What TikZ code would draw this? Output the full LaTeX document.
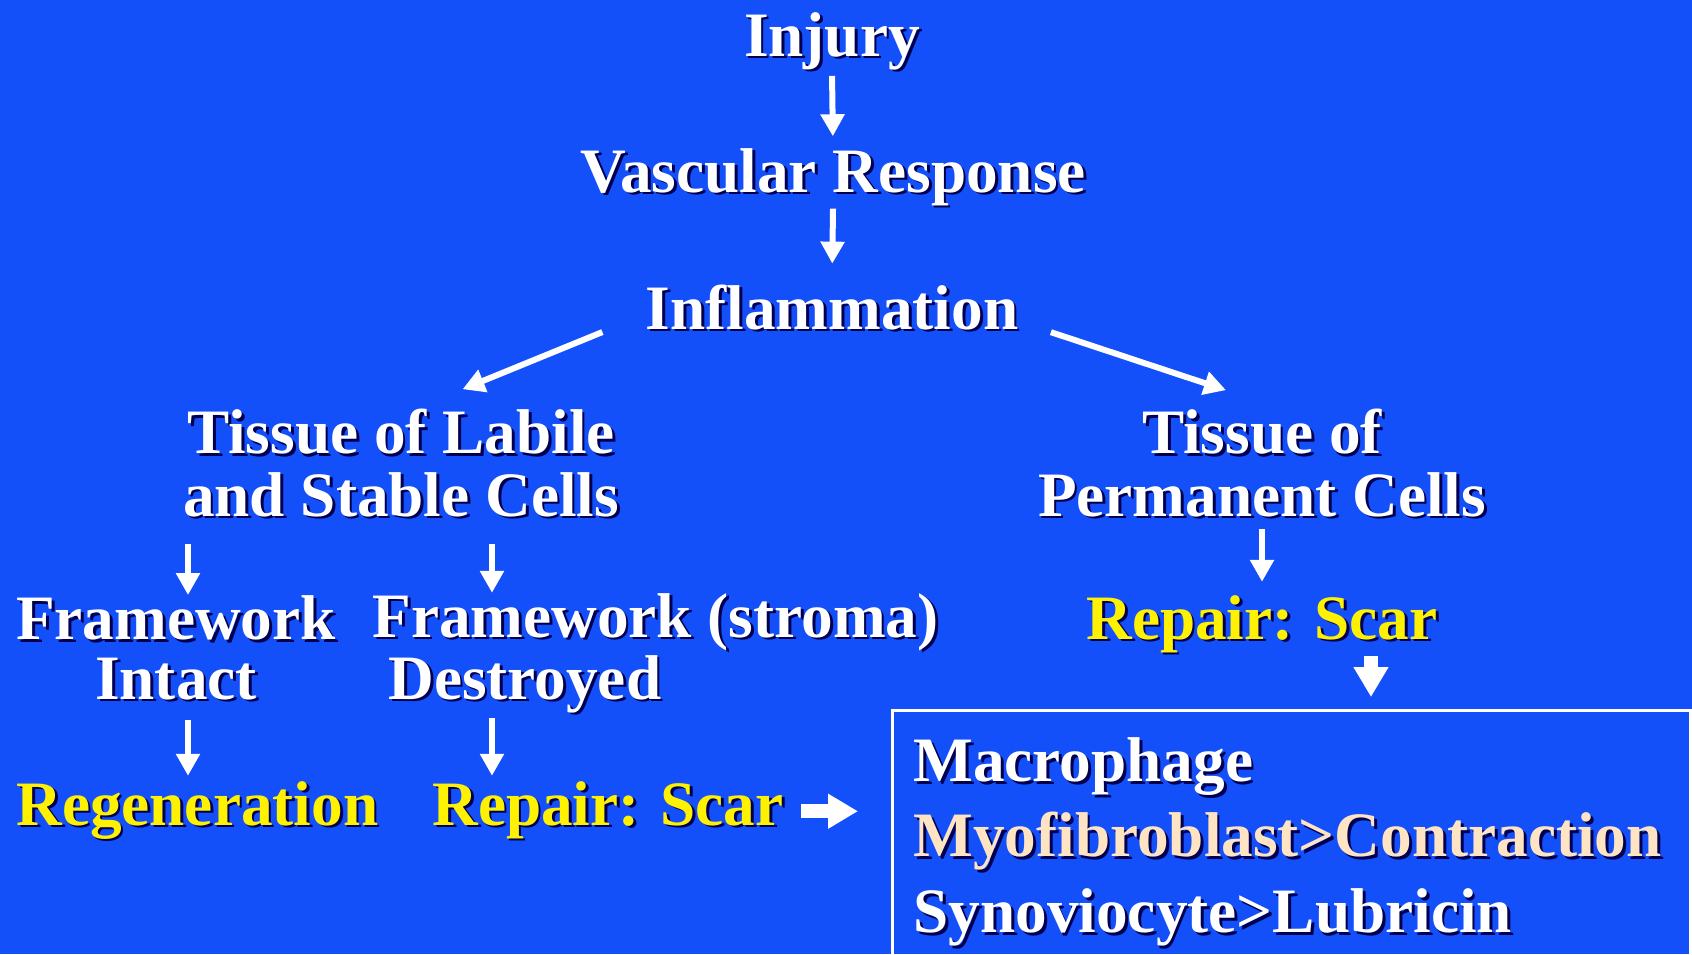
\documentclass[tikz,border=0pt]{standalone}
\usepackage{fontspec}
\setmainfont{Liberation Serif}
\usetikzlibrary{arrows.meta}

\definecolor{slideblue}{RGB}{20,80,250}
\definecolor{shade}{RGB}{0,0,80}
\definecolor{bisque}{RGB}{255,228,196}
\newcommand{\bigfont}{\fontsize{36}{35.7}\selectfont\bfseries}
\newcommand{\pairfont}{\fontsize{36}{34}\selectfont\bfseries}
\newcommand{\boxfont}{\fontsize{36}{43}\selectfont\bfseries}
\newcommand{\sh}[1]{\leavevmode\rlap{\kern0.045em\raisebox{-0.045em}{\color{shade}#1}}#1}

\begin{document}
\begin{tikzpicture}[x=0.02cm, y=-0.02cm,
    txt/.style={text=white, font=\bigfont, inner sep=0pt, anchor=base},
    flow/.style={white, line width=0.12cm, -{Triangle[width=0.46cm,length=0.44cm]}},
    block/.style={white, line width=0.28cm, -{Triangle[width=0.66cm,length=0.6cm]}}]
        \useasboundingbox (0,0) rectangle (1692,954);
        \clip (0,0) rectangle (1692,954);
        \fill[slideblue] (0,0) rectangle (1692,954);

        \node[txt] (injury) at (832,56) {\sh{Injury}};
        \node[txt] (vasc)   at (833,192) {\sh{Vascular Response}};
        \node[txt] (inflam) at (832,329) {\sh{Inflammation}};
        \node[txt, align=center] (labile) at (401,516) {\sh{Tissue of Labile}\\\sh{and Stable Cells}};
        \node[txt, align=center] (perm)   at (1262,516) {\sh{Tissue of}\\\sh{Permanent Cells}};
        \node[txt, font=\pairfont, align=center] (intact) at (176,699) {\sh{Framework}\\\sh{Intact}};
        \node[txt, font=\pairfont, align=left, anchor=base west] (destroyed) at (372,699) {\sh{Framework (stroma)}\\\hspace*{0.32cm}\sh{Destroyed}};
        \node[txt, text=yellow] (repR) at (1262,639) {\sh{Repair: Scar}};
        \node[txt, text=yellow, anchor=base west] (regen) at (16,825) {\sh{Regeneration}};
        \node[txt, text=yellow, anchor=base west] (repL)  at (432,825) {\sh{Repair: Scar}};
        \node[draw=white, line width=0.06cm, text=white, font=\boxfont, align=left,
              text width=15.12cm, inner xsep=0.42cm, inner ysep=0.54cm, anchor=north west]
              (cells) at (891,709)
              {\mbox{\sh{Macrophage}}\\\textcolor{bisque}{\mbox{\sh{Myofibroblast>Contraction}}}\\\mbox{\sh{Synoviocyte>Lubricin}}};

        \draw[flow, shorten <=0.06cm, shorten >=0.23cm] (injury.south) -- (vasc.north);
        \draw[flow, shorten >=0.41cm] (vasc.south) -- (inflam.north);
        \draw[flow, shorten <=0.93cm, shorten >=1.33cm] ([yshift=-0.12cm]inflam.west) -- ([yshift=-0.12cm]labile.north);
        \draw[flow, shorten <=0.68cm, shorten >=1.16cm] ([yshift=-0.26cm]inflam.east) -- ([xshift=0.38cm]perm.north);
        \draw[flow, shorten <=0.48cm] ([xshift=0.24cm]intact.north |- labile.south) -- ([xshift=0.24cm]intact.north);
        \draw[flow, shorten <=0.48cm] ([xshift=2.4cm]destroyed.north west |- labile.south) -- ([xshift=2.4cm]destroyed.north west);
        \draw[flow, shorten <=0.18cm, shorten >=0.26cm] (perm.south) -- (repR.north);
        \draw[flow, shorten <=0.34cm, shorten >=0.1cm] ([xshift=0.24cm]intact.south) -- ([xshift=0.24cm]intact.south |- regen.north);
        \draw[flow, shorten <=0.04cm, shorten >=0.1cm] ([xshift=2.4cm]destroyed.south west) -- ([xshift=2.4cm]destroyed.south west |- repL.north);
        \draw[block, shorten <=0.34cm, shorten >=0.66cm] (repL.east) -- (cells.west |- repL.east);
        \draw[block, shorten >=0.24cm] ([xshift=2.18cm]repR.south) -- ([xshift=2.18cm]repR.south |- cells.north);
\end{tikzpicture}
\end{document}
